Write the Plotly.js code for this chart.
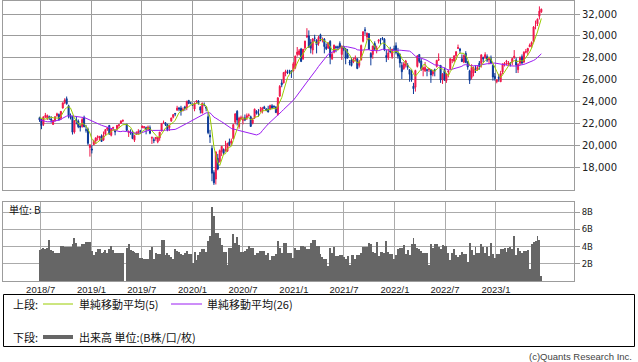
<!DOCTYPE html>
<html><head><meta charset="utf-8">
<script src="https://cdn.plot.ly/plotly-3.0.1.min.js"></script>
<style>html,body{margin:0;padding:0;background:#fff;}#chart{width:638px;height:362px;}</style>
</head><body><div id="chart"></div>
<script>
// ---------------- data ----------------
const firstWeek = '2018-06-27';   // mid-week date of the first weekly candle
const priorClose = [23714,23653,23808,23631,23274,21383,21720,21892,21182,21469,21676,20617,21454,21568,21779,22162,22468,22473,22758,22930,22451,22171,22694,22851,22517];

const openP = [
22520,22350,21900,22620,22500,22600,22400,21900,22250,22700,
22800,22450,23400,23900,24250,23600,22700,22600,21200,22300,
22200,21750,21700,22550,21400,21450,19785,19650,20050,20380,
20720,20650,20850,20450,21000,21450,21800,20900,21550,21350,
21500,21800,22000,22200,null,21900,21150,21200,21150,20450,
21000,21100,21300,21600,21600,21600,21450,21600,20650,20500,
20600,20300,20650,21300,22050,22050,21900,21600,22200,22550,
22900,23200,23400,23400,23150,23500,23400,24100,23880,23750,
23300,23950,24050,23500,22950,23700,23500,22600,20900,19700,
17500,16900,18800,18500,19400,19600,19500,19450,20300,20200,
20600,22100,23100,21700,22400,22300,22500,22500,22700,22600,
22000,22500,23100,22900,23200,23100,23500,23300,23300,23300,
23600,23550,23500,22800,24500,25700,25700,26600,26700,26800,
26800,26800,27100,28300,28300,28800,27900,28900,29900,30000,
29400,28700,29800,29600,29300,30100,29600,29700,29000,28900,
29500,27900,28500,29000,29000,29300,28300,29000,28800,28300,
27600,27800,27600,27900,27900,27300,27800,29500,30550,29900,
30200,28400,28300,29300,28700,29500,29650,29800,29700,28200,
28000,28600,28100,28800,29100,28400,28300,27300,27000,27300,
27300,26900,26500,25400,25300,27200,28300,27700,26900,26800,
26900,26900,26900,26500,26900,27200,27800,27300,26000,26800,
25900,26700,27000,27800,27700,28200,28850,28800,27900,27600,
28400,27600,26800,26200,26600,26900,26900,27500,27500,28000,
28000,28100,27800,27900,27300,26300,25800,26200,25800,26700,
27400,27600,27400,27500,27600,28000,27800,26900,27500,28100,
27600,28500,28600,29000,29200,29500,30900,31100,31800,32200];

const highP = [
22600,22420,22600,22950,22810,22700,22650,22300,22650,22970,
22900,23100,23900,24290,24450,23700,22900,22700,22300,22600,
22350,21900,22480,22700,21850,21600,20100,19980,20500,20700,
20900,20850,20980,21250,21450,21610,21850,21500,21650,21450,
21850,21900,22280,22360,null,21950,21350,21450,21350,20950,
21260,21460,21400,21780,21750,21700,21800,21800,20800,20700,
20700,20750,21200,22000,22250,22100,21950,21850,22500,22800,
22950,23600,23500,23600,23450,23600,24050,24100,23900,23770,
23900,24100,24120,23550,23900,23900,23550,22950,21400,19950,
17700,19400,19200,19600,19900,19700,20400,20200,20600,20600,
21950,22900,23200,22600,22700,22600,22800,22900,22900,22700,
22500,23350,23200,23300,23500,23500,23600,23400,23600,23700,
23750,23650,23550,24400,25500,26000,26700,26900,26900,26900,
26850,27600,28200,28980,28800,28900,28800,29550,30700,30500,
29700,29800,30100,29700,30000,30200,29850,29800,29300,29400,
29600,28500,29200,29100,29100,29500,29100,29100,28900,28800,
27800,28000,28000,28200,27950,27800,29200,30400,30800,30300,
30250,28500,29100,29500,29100,29700,29800,29900,29800,28700,
28800,29000,28800,29100,29400,28900,28400,27600,27600,27800,
27500,26950,26900,25700,26900,28250,28300,27900,27200,27600,
27000,27050,26950,26900,27000,27800,28400,27300,26600,27100,
26600,26900,27900,27900,28200,28600,29200,28900,28300,28300,
28600,27700,26900,27400,27200,27300,27300,27700,28300,28100,
28500,28300,28100,28200,27400,26600,26000,26500,26800,27500,
27600,27800,27700,27600,28000,28700,28000,27500,28100,28300,
28600,28800,28900,29300,29500,30900,31400,31600,32700,32500];

const lowP = [
22130,21460,21750,22480,22300,22300,22050,21850,22150,22600,
22250,22300,23350,23750,23700,22450,22350,20970,21050,21900,
21550,21250,21600,21650,21150,20000,18950,19240,20000,20100,
20420,20400,20300,20400,20900,21300,20950,20800,21300,20900,
21350,21550,21950,22100,null,21290,20750,20950,20550,20290,
20950,20950,21050,21550,21500,20990,21350,21000,20110,20180,
20400,20170,20400,21250,21950,21750,21270,21300,22150,22450,
22650,23150,23100,22700,23100,23150,23200,23750,23750,23650,
23100,23800,23700,22900,22900,23550,23100,21000,20200,16700,
16358,16400,17700,18400,19000,19100,19400,19400,19900,19950,
20550,21900,21800,21500,22300,21900,22200,22300,22600,21700,
21900,22400,22800,22600,23000,22900,23300,23100,23000,23200,
23300,23400,22950,22700,24400,25300,25650,26300,26500,26500,
26150,26750,26950,28100,28200,27600,27800,28700,29800,28900,
28400,28300,29500,28400,29100,29500,29400,28400,28700,28800,
27400,27800,28400,28500,28700,28900,27800,28600,27400,27900,
27300,27200,27500,27700,26950,27100,27750,29400,30100,29600,
28700,27300,27900,28700,28400,29300,29200,29600,28600,27600,
27800,28400,27900,28700,28300,27900,27100,26050,26900,27100,
26900,25800,25800,24680,24900,27100,27500,26800,26300,26700,
26300,26700,25700,26300,26300,27100,27700,25700,25600,25900,
25700,26200,26900,27500,27600,27800,28800,28400,27600,27500,
27500,26900,25600,26000,26300,26600,26800,26900,27100,27600,
27900,27600,27400,27400,25900,25900,25660,25800,25800,26500,
27200,27300,27300,27200,27300,27900,26600,26600,27300,27400,
27500,28400,28200,29000,28900,29400,30600,30900,31500,32100];

const closeP = [
22305,21788,22597,22698,22712,22525,22298,22270,22601,22865,
22307,23094,23869,24120,23784,22694,22532,21184,22243,22250,
21680,21646,22351,21679,21375,20166,20015,19561,20359,20666,
20774,20788,20333,20900,21425,21602,21025,21450,21627,21205,
21807,21870,22200,22258,null,21344,21250,21117,20601,20884,
21116,21258,21275,21746,21685,21466,21658,21087,20684,20418,
20710,20704,21199,21988,22079,21878,21410,21799,22492,22799,
22851,23391,23303,23112,23293,23354,24023,23816,23837,23656,
23850,24041,23827,23205,23827,23687,23386,21142,20749,17431,
16552,19389,17820,19498,19897,19262,19619,20179,20037,20388,
21877,22863,22305,22478,22512,22306,22290,22696,22751,21710,
22329,23289,22920,22882,23205,23406,23360,23204,23030,23619,
23410,23516,22977,24325,25385,25527,26644,26751,26652,26763,
26656,27444,28139,28519,28631,27663,28779,29520,30018,28966,
28864,29717,29792,29176,29854,29768,29683,29020,28812,29357,
28084,28317,29149,28941,28948,28964,29066,28783,27940,28003,
27548,27283,27820,27977,27013,27641,29128,30381,30500,30248,
28771,28048,29068,28804,28892,29611,29609,29745,28751,28029,
28437,28545,28782,28791,28478,28124,27522,26717,27439,27696,
27122,26476,25985,25163,26827,28149,27665,26985,27093,27105,
26847,27003,26427,26739,26781,27761,27824,25963,26491,25935,
26517,26788,27915,27801,28176,28546,28930,28641,27650,28214,
27567,27153,25937,27116,27090,26891,27105,27199,28263,27899,
28283,27777,27901,27527,26235,26095,25973,26120,26554,27383,
27509,27671,27514,27454,27927,28144,27334,27385,28041,27518,
28493,28564,28856,29157,29388,30808,30916,31524,32265,32434];

const volumeB = [
3.6,3.7,3.8,3.7,3.8,4.75,3.6,3.5,3.2,3.3,
3.2,4.1,4.1,4.0,3.9,4.0,3.9,4.3,5.05,4.4,
3.9,3.9,4.25,4.3,4.5,4.5,4.5,3.5,3.0,3.4,
3.7,3.7,3.2,3.4,3.6,3.2,3.7,4.05,3.6,3.2,
3.3,3.2,3.2,3.3,null,3.8,4.3,3.6,3.5,3.4,
3.3,3.2,2.7,2.7,2.6,2.6,2.5,3.6,4.0,2.6,
3.2,3.1,3.1,4.75,4.75,3.0,3.3,3.0,2.8,2.6,
3.7,3.5,3.4,3.1,3.0,3.3,3.5,3.1,3.1,2.1,
3.4,2.4,3.0,3.4,3.7,3.7,3.4,4.7,5.2,8.6,
7.5,5.6,5.6,5.05,4.2,3.4,3.4,1.85,3.85,3.85,
5.5,4.4,5.1,4.2,3.4,3.4,3.5,3.7,4.05,3.8,
3.8,3.0,3.2,3.2,3.5,3.5,3.5,3.0,3.3,2.4,
2.9,2.9,3.1,4.7,3.8,3.2,4.45,4.45,3.2,3.3,
3.3,2.7,3.8,3.6,3.6,4.05,4.05,3.9,3.7,3.7,
4.45,4.75,4.75,4.05,4.05,3.1,2.8,2.6,2.6,1.7,
3.8,3.2,4.0,2.9,2.9,3.0,3.0,2.8,2.5,2.9,
1.85,3.0,3.0,2.5,3.0,3.0,3.3,4.0,3.9,3.9,
4.45,4.35,3.4,3.2,4.55,2.9,3.4,3.4,3.3,4.7,
3.4,3.1,3.1,2.5,3.0,3.7,3.8,3.8,4.2,3.1,
3.6,3.0,4.35,5.05,4.35,3.8,3.7,3.5,3.3,3.2,
3.2,1.85,4.35,3.8,4.35,4.35,4.0,3.7,4.2,4.1,
4.1,3.2,2.4,3.2,3.7,3.0,2.8,3.0,3.4,3.1,
3.1,2.2,4.45,3.6,3.0,4.0,3.2,3.2,4.3,4.0,
3.3,4.0,2.9,4.45,3.1,2.7,3.1,3.1,3.7,3.7,
3.8,3.4,3.8,4.0,3.7,5.2,3.0,3.8,3.5,3.3,
3.5,3.5,3.6,1.45,4.35,4.55,4.7,5.2,4.8,0.55];

const xTickDates = ['2018-07-01','2019-01-01','2019-07-01','2020-01-01','2020-07-01','2021-01-01','2021-07-01','2022-01-01','2022-07-01','2023-01-01'];
const xTickLabels = ['2018/7','2019/1','2019/7','2020/1','2020/7','2021/1','2021/7','2022/1','2022/7','2023/1'];
const priceTicks = [18000,20000,22000,24000,26000,28000,30000,32000];
const priceTickLabels = ['18,000','20,000','22,000','24,000','26,000','28,000','30,000','32,000'];
const volTicks = [2,4,6,8];
const volTickLabels = ['2B','4B','6B','8B'];
const legendTexts = {upper:'上段:', lower:'下段:', ma5:'単純移動平均(5)', ma26:'単純移動平均(26)', vol:'出来高 単位:(B株/口/枚)', unit:'単位: B', credit:'(c)Quants Research Inc.'};

// ---------------- build ----------------
const DAY = 864e5;
const t0 = Date.parse(firstWeek + 'T00:00:00Z');
const dates = closeP.map((_, i) => new Date(t0 + i * 7 * DAY).toISOString().slice(0, 10));

function movingAverage(n) {
  const hist = priorClose.slice();
  return closeP.map(c => {
    if (c == null) return null;
    hist.push(c);
    const w = hist.slice(-n);
    return w.reduce((a, b) => a + b, 0) / w.length;
  });
}
const ma5 = movingAverage(5);
const ma26 = movingAverage(26);

const UP = '#f0164a', DOWN = '#0c3a98', GREEN = '#99cc00', PURPLE = '#9b1cf2', VOL = '#666666';
const GRID = '#9c9c9c', GRID2 = '#ababab';

const W = 638, H = 362, L = 3, R = 64, T = 1, B = 81;
const pw = W - L - R, ph = H - T - B;
const px = x => (x - L) / pw;
const py = y => (H - B - y) / ph;

const traces = [
  {type: 'candlestick', x: dates, open: openP, high: highP, low: lowP, close: closeP,
   xaxis: 'x2', yaxis: 'y', whiskerwidth: 0, hoverinfo: 'skip', showlegend: false,
   increasing: {line: {color: UP, width: 1}, fillcolor: UP},
   decreasing: {line: {color: DOWN, width: 1}, fillcolor: DOWN}},
  {type: 'scatter', mode: 'lines', x: dates, y: ma26, xaxis: 'x2', yaxis: 'y', connectgaps: true,
   line: {color: PURPLE, width: 1}, hoverinfo: 'skip', showlegend: false},
  {type: 'scatter', mode: 'lines', x: dates, y: ma5, xaxis: 'x2', yaxis: 'y', connectgaps: true,
   line: {color: GREEN, width: 1}, hoverinfo: 'skip', showlegend: false},
  {type: 'bar', x: dates, y: volumeB, xaxis: 'x', yaxis: 'y2', marker: {color: VOL, line: {width: 0}},
   hoverinfo: 'skip', showlegend: false}
];

const tickFontX = {family: 'Liberation Sans, Arial, sans-serif', size: 9.5, color: '#222'};
const tickFontY = {family: 'DejaVu Sans, sans-serif', size: 10, color: '#222'};
const tickFontV = {family: 'DejaVu Sans, sans-serif', size: 8.5, color: '#222'};
const range = ['2018-02-15', '2023-10-10'];

const cjk = 'Noto Sans CJK JP, sans-serif';
function ann(text, x, y, opts) {
  return Object.assign({text: text, x: px(x), y: py(y), xref: 'paper', yref: 'paper', showarrow: false,
    xanchor: 'left', yanchor: 'middle', font: {family: cjk, size: 11, color: '#111'}}, opts || {});
}

const layout = {
  width: W, height: H, margin: {l: L, r: R, t: T, b: B, pad: 0},
  paper_bgcolor: '#fff', plot_bgcolor: '#fff', showlegend: false, boxgap: 0.25, bargap: 0,
  xaxis: {type: 'date', range: range, anchor: 'y2', domain: [0, 1], tickvals: xTickDates, ticktext: xTickLabels,
    showgrid: true, gridcolor: GRID2, gridwidth: 1, showline: true, mirror: true, linecolor: GRID, linewidth: 1,
    ticks: '', tickfont: tickFontX, zeroline: false, fixedrange: true},
  xaxis2: {type: 'date', range: range, matches: 'x', anchor: 'y', domain: [0, 1], tickvals: xTickDates,
    showticklabels: false, showgrid: true, gridcolor: GRID, gridwidth: 1, showline: true, mirror: true,
    linecolor: GRID, linewidth: 1, ticks: '', zeroline: false, rangeslider: {visible: false}, fixedrange: true},
  yaxis: {domain: [py(190), 1], range: [15896, 33190], anchor: 'x2', side: 'right', tickvals: priceTicks,
    ticktext: priceTickLabels, showgrid: true, gridcolor: GRID, gridwidth: 1, ticks: 'outside', ticklen: 5,
    tickcolor: GRID, tickfont: tickFontY, showline: true, mirror: true, linecolor: GRID, linewidth: 1,
    zeroline: false, fixedrange: true},
  yaxis2: {domain: [0, py(201.7)], range: [0, 9.22], anchor: 'x', side: 'right', tickvals: volTicks,
    ticktext: volTickLabels, showgrid: true, gridcolor: GRID2, gridwidth: 1, ticks: 'outside', ticklen: 5,
    tickcolor: GRID, tickfont: tickFontV, showline: true, mirror: true, linecolor: GRID, linewidth: 1,
    zeroline: false, fixedrange: true},
  shapes: [
    {type: 'rect', xref: 'paper', yref: 'paper', x0: px(3.5), x1: px(634.5), y0: py(346.5), y1: py(294.5),
     line: {color: '#000', width: 1}, fillcolor: 'rgba(0,0,0,0)'},
    {type: 'line', xref: 'paper', yref: 'paper', x0: px(43), x1: px(73), y0: py(304), y1: py(304), line: {color: GREEN, width: 1}},
    {type: 'line', xref: 'paper', yref: 'paper', x0: px(171), x1: px(202), y0: py(304), y1: py(304), line: {color: PURPLE, width: 1}},
    {type: 'line', xref: 'paper', yref: 'paper', x0: px(43), x1: px(73), y0: py(337), y1: py(337), line: {color: VOL, width: 4}}
  ],
  annotations: [
    ann(legendTexts.upper, 11, 304),
    ann(legendTexts.ma5, 77, 304),
    ann(legendTexts.ma26, 205, 304),
    ann(legendTexts.lower, 11, 337),
    ann(legendTexts.vol, 77, 337),
    ann(legendTexts.unit, 7, 209, {font: {family: cjk, size: 10, color: '#111'}}),
    ann(legendTexts.credit, 634, 356, {xanchor: 'right', font: {family: 'Liberation Sans, Arial, sans-serif', size: 9.5, color: '#444'}})
  ]
};

Plotly.newPlot('chart', traces, layout, {staticPlot: true, displayModeBar: false});
</script>
</body></html>
